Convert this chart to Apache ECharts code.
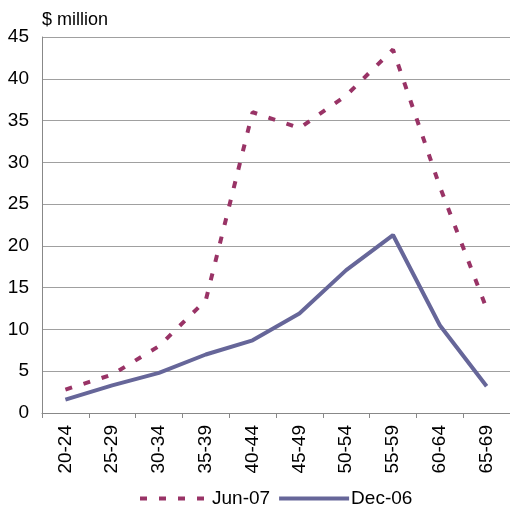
<!DOCTYPE html>
<html>
<head>
<meta charset="utf-8">
<script src="https://cdn.jsdelivr.net/npm/echarts@6/dist/echarts.min.js"></script>
<style>
html,body{margin:0;padding:0;background:#fff;}
#chart{width:510px;height:506px;}
</style>
</head>
<body>
<div id="chart"></div>
<script>
var ageGroups=['20-24','25-29','30-34','35-39','40-44','45-49','50-54','55-59','60-64','65-69'];
var jun07=[2.8,4.6,8.0,13.5,36.0,34.1,38.0,43.5,27.1,12.5];
var dec06=[1.6,3.3,4.8,7.0,8.7,11.9,17.1,21.3,10.5,3.2];
var yTicks=[0,5,10,15,20,25,30,35,40,45];

var myChart=echarts.init(document.getElementById('chart'));
var font='Liberation Sans';
var junColor='#993366', decColor='#666699';
var option={
    animation:false,
    textStyle:{fontFamily:font},
    title:{
        text:'$ million',
        left:37,
        top:6,
        textStyle:{fontSize:18,fontWeight:'normal',color:'#000',fontFamily:font}
    },
    legend:{
        left:133,
        top:484,
        itemWidth:70,
        itemHeight:14,
        itemGap:7,
        itemStyle:{opacity:0},//hide circle in icon
        textStyle:{fontSize:19,color:'#000',fontFamily:font,padding:[0,0,0,-3]},
        data:[
            {name:'Jun-07',lineStyle:{color:junColor,width:4,type:[7,12]}},
            {name:'Dec-06',lineStyle:{color:decColor,width:4}}
        ]
    },
    grid:{//plot area
        left:42,
        top:37,
        width:471,
        height:376
    },
    xAxis:{
        type:'category',
        data:ageGroups,
        boundaryGap:true,
        axisLine:{lineStyle:{color:'#888',width:1}},
        axisTick:{show:true,length:5,lineStyle:{color:'#888'}},
        axisLabel:{rotate:90,fontSize:19,color:'#000',margin:12,fontFamily:font}
    },
    yAxis:{
        type:'value',
        min:yTicks[0],
        max:yTicks[yTicks.length-1],
        interval:5,
        axisLine:{show:true,lineStyle:{color:'#888',width:1}},
        axisTick:{show:false},
        axisLabel:{fontSize:19,color:'#000',margin:13,fontFamily:font},
        splitLine:{lineStyle:{color:'#a0a0a0',width:1}}
    },
    series:[
        {
            name:'Jun-07',
            type:'line',
            symbol:'none',
            data:jun07,
            lineStyle:{color:junColor,width:4,type:[7,12]},
            itemStyle:{color:junColor}
        },
        {
            name:'Dec-06',
            type:'line',
            symbol:'none',
            data:dec06,
            lineStyle:{color:decColor,width:4},
            itemStyle:{color:decColor}
        }
    ]
};
myChart.setOption(option);
</script>
</body>
</html>
